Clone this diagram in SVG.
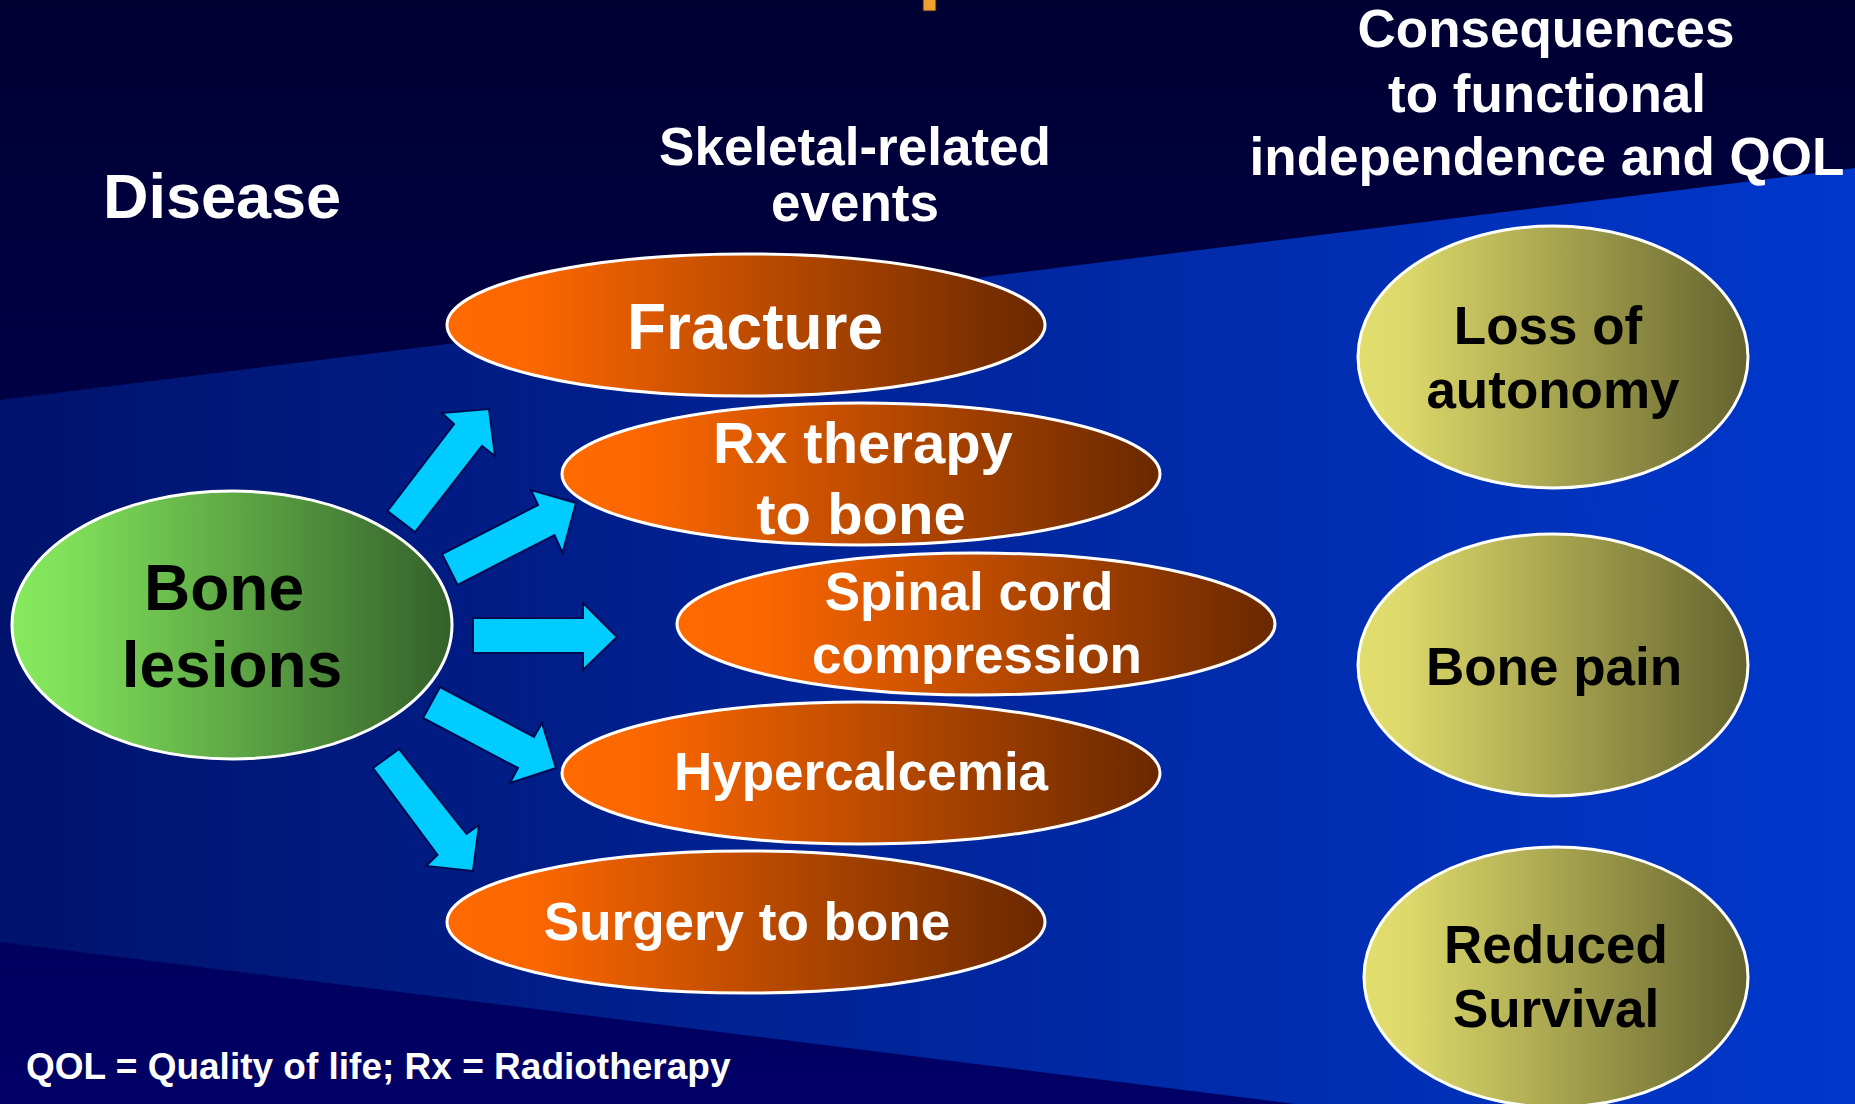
<svg xmlns="http://www.w3.org/2000/svg" width="1855" height="1104" viewBox="0 0 1855 1104">
  <defs>
    <linearGradient id="bg" x1="0" y1="0" x2="0" y2="1">
      <stop offset="0" stop-color="#000033"/>
      <stop offset="1" stop-color="#000066"/>
    </linearGradient>
    <linearGradient id="band" x1="0" y1="0" x2="1" y2="0">
      <stop offset="0" stop-color="#00136C"/>
      <stop offset="1" stop-color="#0038CC"/>
    </linearGradient>
    <linearGradient id="orange" x1="0" y1="0" x2="1" y2="0">
      <stop offset="0" stop-color="#FF6A00"/>
      <stop offset="0.15" stop-color="#FA6600"/>
      <stop offset="1" stop-color="#6A2800"/>
    </linearGradient>
    <linearGradient id="green" x1="0" y1="0" x2="1" y2="0">
      <stop offset="0" stop-color="#86EA5E"/>
      <stop offset="0.12" stop-color="#80E05A"/>
      <stop offset="1" stop-color="#33602A"/>
    </linearGradient>
    <linearGradient id="olive" x1="0" y1="0" x2="1" y2="0">
      <stop offset="0" stop-color="#E2DE6E"/>
      <stop offset="0.12" stop-color="#DCD86A"/>
      <stop offset="1" stop-color="#64632E"/>
    </linearGradient>
  </defs>
  <style>
    text { font-family: "Liberation Sans", Arial, sans-serif; font-weight: bold; text-anchor: middle; }
    .hdr { fill: #FFFFFF; font-size: 53px; }
    .wt { fill: #FFFFFF; font-size: 53px; }
    .bk { fill: #000000; font-size: 53px; }
    .sre { fill: url(#orange); stroke: #FFFFFF; stroke-width: 3; }
    .cons { fill: url(#olive); stroke: #FFFFFF; stroke-width: 3; }
    .arrow { fill: #00CCFF; stroke: #000A50; stroke-width: 2; stroke-linejoin: miter; }
  </style>

  <!-- background -->
  <rect x="0" y="0" width="1855" height="1104" fill="url(#bg)"/>
  <polygon points="0,400 1855,168 1855,1174 0,942" fill="url(#band)"/>
  <rect x="923" y="-2" width="13" height="13" fill="#F0A030" stroke="#2A1A30" stroke-width="1"/>

  <!-- headers -->
  <g id="header-disease">
    <text class="hdr" x="222" y="218" style="font-size:63px">Disease</text>
  </g>
  <g id="header-sre">
    <text class="hdr" x="855" y="165">Skeletal-related</text>
    <text class="hdr" x="855" y="221">events</text>
  </g>
  <g id="header-consequences">
    <text class="hdr" x="1546" y="47">Consequences</text>
    <text class="hdr" x="1547" y="112">to functional</text>
    <text class="hdr" x="1547" y="175">independence and QOL</text>
  </g>

  <!-- connectors -->
  <g id="connectors">
    <polygon class="arrow" points="387.5,511 454,424 442,413 489,409 495,456 482,446 415,532"/>
    <polygon class="arrow" points="442,554 538,505 531,490 576,503 562.5,553 554.5,535 457.6,585"/>
    <polygon class="arrow" points="473,618 583,618 583,603 617,637 583,670 583,653 473,653"/>
    <polygon class="arrow" points="440,687 534,737 542,723 556,768 510,783 518,768 423,718"/>
    <polygon class="arrow" points="399,749 373,768 437.5,855 426,866 473,871 479,825 466.5,834"/>
  </g>

  <!-- disease node -->
  <g id="node-bone-lesions">
    <ellipse cx="232" cy="625" rx="220" ry="134" fill="url(#green)" stroke="#FFFFFF" stroke-width="3"/>
    <text class="bk" x="224" y="610" style="font-size:64px">Bone</text>
    <text class="bk" x="232" y="687" style="font-size:64px">lesions</text>
  </g>

  <!-- skeletal-related events -->
  <g id="node-fracture">
    <ellipse class="sre" cx="746" cy="325" rx="299" ry="71"/>
    <text class="wt" x="755" y="349" style="font-size:64px">Fracture</text>
  </g>
  <g id="node-rx-therapy">
    <ellipse class="sre" cx="861" cy="474" rx="299" ry="71"/>
    <text class="wt" x="863" y="463" style="font-size:58px">Rx therapy</text>
    <text class="wt" x="861" y="534" style="font-size:58px">to bone</text>
  </g>
  <g id="node-spinal-cord">
    <ellipse class="sre" cx="976" cy="624" rx="299" ry="71"/>
    <text class="wt" x="969" y="610">Spinal cord</text>
    <text class="wt" x="977" y="673">compression</text>
  </g>
  <g id="node-hypercalcemia">
    <ellipse class="sre" cx="861" cy="773" rx="299" ry="71"/>
    <text class="wt" x="861" y="790">Hypercalcemia</text>
  </g>
  <g id="node-surgery">
    <ellipse class="sre" cx="746" cy="922" rx="299" ry="71"/>
    <text class="wt" x="747" y="940">Surgery to bone</text>
  </g>

  <!-- consequences -->
  <g id="node-loss-of-autonomy">
    <ellipse class="cons" cx="1553" cy="357" rx="195" ry="131"/>
    <text class="bk" x="1548" y="344">Loss of</text>
    <text class="bk" x="1553" y="408">autonomy</text>
  </g>
  <g id="node-bone-pain">
    <ellipse class="cons" cx="1553" cy="665" rx="195" ry="131"/>
    <text class="bk" x="1554" y="685">Bone pain</text>
  </g>
  <g id="node-reduced-survival">
    <ellipse class="cons" cx="1556" cy="977" rx="192" ry="130"/>
    <text class="bk" x="1556" y="963">Reduced</text>
    <text class="bk" x="1556" y="1027">Survival</text>
  </g>

  <!-- footnote -->
  <text x="26" y="1079" style="text-anchor:start; fill:#FFFFFF; font-size:37px">QOL = Quality of life; Rx = Radiotherapy</text>
</svg>
